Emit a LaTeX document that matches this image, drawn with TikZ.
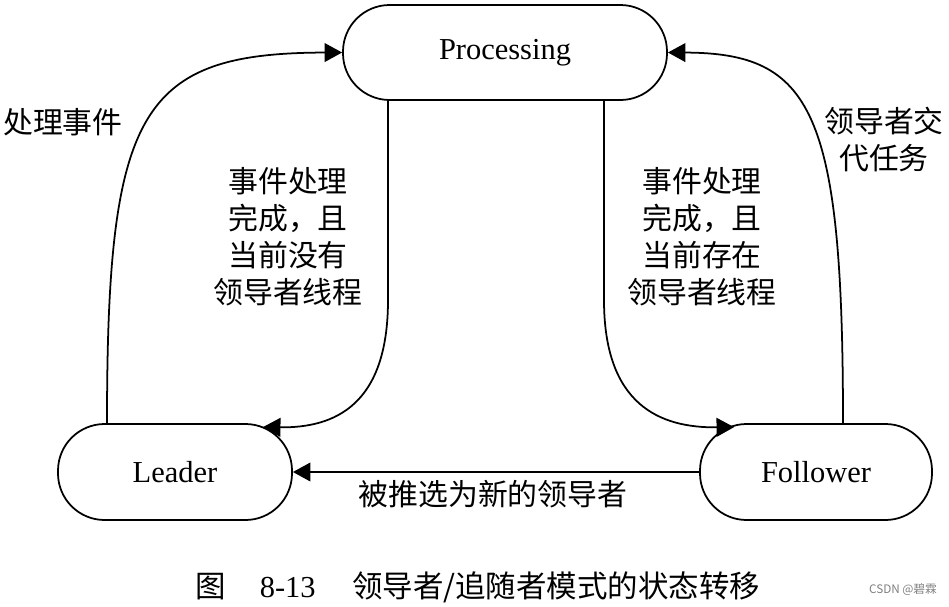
\documentclass[tikz,border=0pt]{standalone}
\usepackage{fontspec}
\setmainfont{Liberation Serif}
\newfontfamily\cjk{Noto Sans CJK SC}
\usetikzlibrary{arrows.meta,calc}
\begin{document}
\begin{tikzpicture}[x=0.03cm,y=-0.03cm,
  state/.style={draw,line width=1.5pt,rounded corners=1.4cm,font=\fontsize{26}{30}\selectfont,inner sep=0pt},
  conn/.style={line width=1.5pt,-{Triangle[length=15pt,width=16pt]}},
  lab/.style={font=\cjk\fontsize{25.5}{31.6}\selectfont,align=center,inner sep=0pt}]
\useasboundingbox (0,0) rectangle (949,606);
\node[state,minimum width=9.72cm,minimum height=2.85cm] (P) at (505,52.5) {Processing};
\node[state,minimum width=7.02cm,minimum height=2.88cm] (L) at (175,472) {Leader};
\node[state,minimum width=6.96cm,minimum height=2.88cm] (F) at (816,472) {Follower};
% outer loops
\draw[conn] ($(L.north)+(-68,0)$) .. controls (107,110) and (140,53) .. (P.west);
\draw[conn] ($(F.north)+(27,0)$) .. controls (843,110) and (812,53) .. (P.east);
% inner transitions
\draw[conn] ($(P.south)+(-117,0)$) -- (388,300) .. controls (388,405) and (335,428) .. ($(L.north east)+(-30,4)$);
\draw[conn] ($(P.south)+(99,0)$) -- (604,300) .. controls (604,405) and (660,428) .. ($(F.north west)+(35,4)$);
% bottom
\draw[conn] (F.west) -- (L.east);
% labels
\node[lab] (t1) at (63,122) {处理事件};
\node[lab] (t2) at (288,237) {事件处理\\完成，且\\当前没有\\领导者线程};
\node[lab] (t3) at (702,237) {事件处理\\完成，且\\当前存在\\领导者线程};
\node[lab] (t4) at (884,140) {领导者交\\代任务};
\node[lab] (t5) at (493,494) {被推选为新的领导者};
\node[font=\fontsize{26}{30}\selectfont,inner sep=0pt] (cap) at (478,587) {{\cjk 图}\hspace{1.1em}8-13\hspace{1.2em}{\cjk 领导者/追随者模式的状态转移}};
\node[font=\cjk\fontsize{10}{12}\selectfont,text=gray,inner sep=0pt] (wm) at (903,590) {CSDN @碧霖};
\end{tikzpicture}
\end{document}
